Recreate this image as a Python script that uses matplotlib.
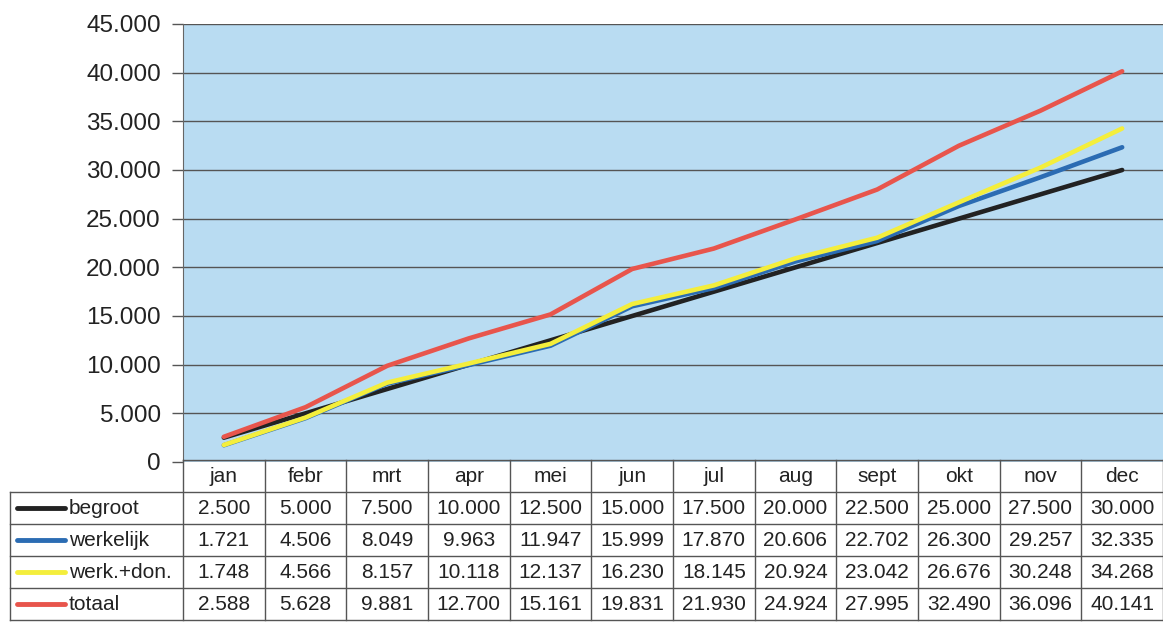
import matplotlib
matplotlib.use('Agg')
import matplotlib.pyplot as plt

plt.rcParams['font.family'] = ['Liberation Sans', 'DejaVu Sans']

months = ['jan', 'febr', 'mrt', 'apr', 'mei', 'jun', 'jul', 'aug', 'sept', 'okt', 'nov', 'dec']
names = ['begroot', 'werkelijk', 'werk.+don.', 'totaal']
begroot = [2500, 5000, 7500, 10000, 12500, 15000, 17500, 20000, 22500, 25000, 27500, 30000]
werkelijk = [1721, 4506, 8049, 9963, 11947, 15999, 17870, 20606, 22702, 26300, 29257, 32335]
werk_don = [1748, 4566, 8157, 10118, 12137, 16230, 18145, 20924, 23042, 26676, 30248, 34268]
totaal = [2588, 5628, 9881, 12700, 15161, 19831, 21930, 24924, 27995, 32490, 36096, 40141]
series = [begroot, werkelijk, werk_don, totaal]
colors = ['#222222', '#2b6cb3', '#f4ee3c', '#e8554c']
y_ticks = [0, 5000, 10000, 15000, 20000, 25000, 30000, 35000, 40000, 45000]


def nl(v):
    return '{:,}'.format(v).replace(',', '.')


W, H = 1163, 622
fig = plt.figure(figsize=(W / 100, H / 100), dpi=100)
ax = fig.add_axes([183 / W, 1 - 462 / H, 980 / W, 438 / H])
ax.set_facecolor('#b9dcf2')

x = list(range(len(months)))
for vals, c in zip(series, colors):
    ax.plot(x, vals, color=c, lw=3.3, solid_capstyle='round', zorder=3)

ax.set_xlim(-0.5, 11.5)
ax.set_ylim(0, 45000)
ax.set_yticks(y_ticks)
ax.set_yticklabels([nl(v) for v in y_ticks], fontsize=17.5, color='#222222')
ax.set_xticks([])
ax.tick_params(axis='y', length=8, width=1, color='#555555', pad=8)
ax.grid(axis='y', color='#555555', lw=1)
for s in ['top', 'right', 'bottom']:
    ax.spines[s].set_visible(False)
ax.spines['left'].set_color('#666666')

# data table under the chart
lab_w = 173 / (980 / 12)
x0 = -0.5 - lab_w
tax = fig.add_axes([183 / W, 2 / H, 980 / W, 160 / H], sharex=ax)
tax.set_ylim(5, 0)
tax.axis('off')
lc = '#555555'
tax.plot([-0.5, 11.5], [0, 0], color=lc, lw=1, clip_on=False)
for r in range(1, 6):
    tax.plot([x0, 11.5], [r, r], color=lc, lw=1, clip_on=False)
for k in range(13):
    tax.plot([k - 0.5, k - 0.5], [0, 5], color=lc, lw=1, clip_on=False)
tax.plot([x0, x0], [1, 5], color=lc, lw=1, clip_on=False)

fs = 15
for i, m in enumerate(months):
    tax.text(i, 0.5, m, ha='center', va='center', fontsize=fs, color='#222222')
for r, (nm, vals, c) in enumerate(zip(names, series, colors)):
    yy = r + 1.5
    tax.plot([x0 + 0.09, x0 + 0.67], [yy, yy], color=c, lw=3.5,
             solid_capstyle='round', clip_on=False)
    tax.text(x0 + 0.72, yy, nm, ha='left', va='center', fontsize=fs, color='#222222')
    for i, v in enumerate(vals):
        tax.text(i, yy, nl(v), ha='center', va='center', fontsize=fs, color='#222222')

fig.savefig('out.png', dpi=100)
